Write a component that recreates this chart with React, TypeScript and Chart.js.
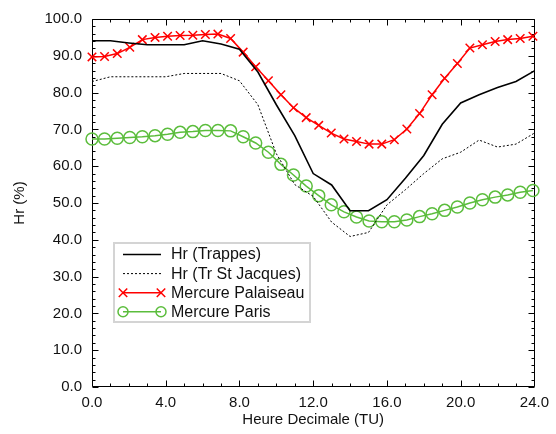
import React, { useEffect, useRef } from "react";
import { Chart, registerables } from "chart.js";

Chart.register(...registerables);

// Hourly station data
const hours = [0, 1, 2, 3, 4, 5, 6, 7, 8, 9, 10, 11, 12, 13, 14, 15, 16, 17, 18, 19, 20, 21, 22, 23, 24];
const hrTrappes = [94.1, 94.1, 93.5, 93.0, 93.0, 93.0, 94.1, 93.2, 91.8, 85.6, 76.7, 68.3, 58.0, 54.9, 47.9, 47.9, 50.9, 56.7, 62.9, 71.4, 77.2, 79.4, 81.4, 83.0, 85.9];
const hrStJacques = [83.0, 84.3, 84.3, 84.3, 84.3, 85.2, 85.2, 85.2, 83.2, 76.7, 63.4, 55.0, 51.8, 44.8, 40.9, 42.0, 49.5, 53.6, 58.0, 62.0, 63.8, 67.1, 65.2, 66.0, 69.0];

// Mercure model output times (decimal hours)
const mercureTimes = [0, 0.68, 1.37, 2.05, 2.73, 3.42, 4.10, 4.78, 5.47, 6.15, 6.83, 7.52, 8.20, 8.88, 9.57, 10.25, 10.93, 11.62, 12.30, 12.98, 13.67, 14.35, 15.03, 15.72, 16.40, 17.08, 17.77, 18.45, 19.13, 19.82, 20.50, 21.18, 21.87, 22.55, 23.23, 23.92];
const mercurePalaiseau = [89.7, 89.8, 90.6, 92.3, 94.4, 95.0, 95.3, 95.5, 95.6, 95.8, 95.9, 94.7, 91.0, 87.0, 83.2, 79.4, 75.9, 73.2, 71.1, 69.0, 67.4, 66.7, 66.0, 66.0, 67.2, 70.1, 74.3, 79.4, 83.9, 87.9, 92.1, 93.0, 93.9, 94.4, 94.7, 95.3];
const mercureParis = [67.4, 67.4, 67.6, 67.8, 68.0, 68.3, 68.7, 69.2, 69.4, 69.7, 69.7, 69.6, 68.0, 66.3, 63.8, 60.5, 57.6, 54.6, 52.0, 49.5, 47.6, 46.2, 45.1, 44.9, 44.9, 45.4, 46.3, 47.1, 48.0, 48.9, 50.0, 50.9, 51.6, 52.2, 52.9, 53.4];

const seriesLabels = ["Hr (Trappes)", "Hr (Tr St Jacques)", "Mercure Palaiseau", "Mercure Paris"];
const xTitle = "Heure Decimale (TU)";
const yTitle = "Hr (%)";

const FONT = "'Liberation Sans', Arial, Helvetica, sans-serif";
const GREEN = "#5bbd3c";
const RED = "#ff0000";

const pts = (xs: number[], ys: number[]) => xs.map((x, i) => ({ x, y: ys[i] }));

const framePlugin = {
  id: "frame",
  beforeDatasetsDraw(chart: any) {
    const { ctx, chartArea, scales } = chart;
    const { left, right, top, bottom } = chartArea;
    const L = Math.floor(left) + 0.5;
    const R = Math.ceil(right) - 0.5;
    const T = Math.floor(top) + 0.5;
    const B = Math.ceil(bottom) - 0.5;
    ctx.save();
    ctx.strokeStyle = "#000";
    ctx.lineWidth = 1;
    ctx.beginPath();
    ctx.rect(L, T, R - L, B - T);
    for (let h = 0; h <= 24; h++) {
      const len = h % 4 === 0 ? 6 : 3;
      const px = Math.round(scales.x.getPixelForValue(h)) + 0.5;
      ctx.moveTo(px, B);
      ctx.lineTo(px, B - len);
      ctx.moveTo(px, T);
      ctx.lineTo(px, T + len);
    }
    for (let v = 0; v <= 100; v += 2) {
      const len = v % 10 === 0 ? 6 : 3;
      const py = Math.round(scales.y.getPixelForValue(v)) + 0.5;
      ctx.moveTo(L, py);
      ctx.lineTo(L + len, py);
      ctx.moveTo(R, py);
      ctx.lineTo(R - len, py);
    }
    ctx.stroke();
    ctx.restore();
  },
};

const drawMarker = (ctx: CanvasRenderingContext2D, style: string, x: number, y: number, r: number) => {
  ctx.beginPath();
  if (style === "crossRot") {
    const o = r * Math.SQRT1_2;
    ctx.moveTo(x - o, y - o);
    ctx.lineTo(x + o, y + o);
    ctx.moveTo(x - o, y + o);
    ctx.lineTo(x + o, y - o);
  } else {
    ctx.arc(x, y, r, 0, Math.PI * 2);
  }
  ctx.stroke();
};

const legendPlugin = {
  id: "insideLegend",
  afterDraw(chart: any) {
    const { ctx } = chart;
    const bx = 114, by = 243, bw = 196, bh = 79;
    ctx.save();
    ctx.fillStyle = "#fff";
    ctx.fillRect(bx, by, bw, bh);
    ctx.strokeStyle = "#d4d4d4";
    ctx.lineWidth = 2;
    ctx.strokeRect(bx, by, bw, bh);
    chart.data.datasets.forEach((ds: any, i: number) => {
      const cy = 254.5 + i * 19.1;
      const x0 = 123, x1 = 161;
      ctx.strokeStyle = ds.borderColor;
      ctx.lineWidth = ds.borderWidth;
      ctx.setLineDash(ds.borderDash || []);
      ctx.beginPath();
      ctx.moveTo(x0, cy);
      ctx.lineTo(x1, cy);
      ctx.stroke();
      ctx.setLineDash([]);
      if (ds.pointRadius > 0) {
        ctx.lineWidth = ds.pointBorderWidth;
        drawMarker(ctx, ds.pointStyle, x0, cy, ds.pointStyle === "circle" ? 5 : 6);
        drawMarker(ctx, ds.pointStyle, x1, cy, ds.pointStyle === "circle" ? 5 : 6);
      }
      ctx.fillStyle = "#111";
      ctx.font = `16px ${FONT}`;
      ctx.textBaseline = "middle";
      ctx.textAlign = "left";
      ctx.fillText(ds.label, 171, cy + 0.5);
    });
    ctx.restore();
  },
};

export default function App() {
  const ref = useRef<HTMLCanvasElement | null>(null);

  useEffect(() => {
    if (!ref.current) return;
    const chart = new Chart(ref.current, {
      type: "line",
      data: {
        datasets: [
          {
            label: seriesLabels[0],
            data: pts(hours, hrTrappes),
            borderColor: "#000",
            borderWidth: 1.6,
            pointRadius: 0,
            tension: 0,
            clip: false,
          },
          {
            label: seriesLabels[1],
            data: pts(hours, hrStJacques),
            borderColor: "#000",
            borderWidth: 1,
            borderDash: [2, 2],
            pointRadius: 0,
            tension: 0,
            clip: false,
          },
          {
            label: seriesLabels[2],
            data: pts(mercureTimes, mercurePalaiseau),
            borderColor: RED,
            borderWidth: 1.5,
            pointStyle: "crossRot",
            pointRadius: 6,
            pointBorderWidth: 1.5,
            pointBorderColor: RED,
            pointBackgroundColor: RED,
            tension: 0,
            clip: false,
          },
          {
            label: seriesLabels[3],
            data: pts(mercureTimes, mercureParis),
            borderColor: GREEN,
            borderWidth: 1.5,
            pointStyle: "circle",
            pointRadius: 6,
            pointBorderWidth: 1.5,
            pointBorderColor: GREEN,
            pointBackgroundColor: "rgba(0,0,0,0)",
            tension: 0,
            clip: false,
          },
        ] as any,
      },
      options: {
        animation: false,
        responsive: false,
        events: [],
        layout: { padding: { top: 12, right: 16, left: 0, bottom: 0 } },
        plugins: { legend: { display: false }, tooltip: { enabled: false } },
        scales: {
          x: {
            type: "linear",
            min: 0,
            max: 24,
            grid: { display: false, drawTicks: false },
            border: { display: false },
            ticks: {
              stepSize: 4,
              autoSkip: false,
              maxRotation: 0,
              padding: 7,
              color: "#111",
              font: { family: FONT, size: 15 },
              callback: (v: any) => Number(v).toFixed(1),
            },
            title: {
              display: true,
              text: xTitle,
              color: "#111",
              font: { family: FONT, size: 15 },
              padding: { top: 0, bottom: 5 },
            },
            afterFit: (s: any) => {
              s.height = 47;
            },
          },
          y: {
            type: "linear",
            min: 0,
            max: 100,
            grid: { display: false, drawTicks: false },
            border: { display: false },
            ticks: {
              stepSize: 10,
              autoSkip: false,
              padding: 10,
              color: "#111",
              font: { family: FONT, size: 15 },
              callback: (v: any) => Number(v).toFixed(1),
            },
            title: {
              display: true,
              text: yTitle,
              color: "#111",
              font: { family: FONT, size: 15 },
              padding: { top: 11, bottom: 0 },
            },
            afterFit: (s: any) => {
              s.width = 92;
            },
          },
        },
      } as any,
      plugins: [framePlugin, legendPlugin],
    });
    return () => chart.destroy();
  }, []);

  return (
    <div style={{ position: "fixed", left: 0, top: 0, width: 556, height: 434, background: "#fff" }}>
      <canvas ref={ref} width={556} height={434} style={{ display: "block", width: 556, height: 434 }} />
    </div>
  );
}
